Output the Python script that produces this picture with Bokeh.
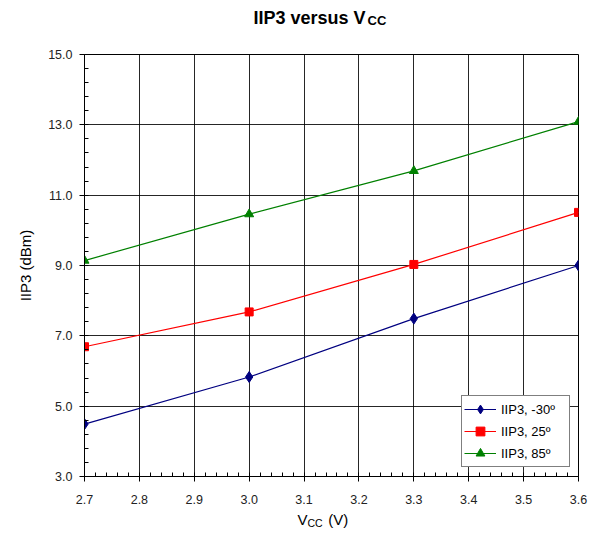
from bokeh.plotting import figure
from bokeh.models import (FixedTicker, NumeralTickFormatter, Label, Legend, Range1d)
from bokeh.embed import file_html
from bokeh.resources import INLINE

# ---- data ----
vcc = [2.7, 3.0, 3.3, 3.6]
iip3_m30 = [4.49, 5.83, 7.49, 9.00]
iip3_25 = [6.69, 7.68, 9.03, 10.51]
iip3_85 = [9.14, 10.46, 11.69, 13.09]

x_major = [2.7, 2.8, 2.9, 3.0, 3.1, 3.2, 3.3, 3.4, 3.5, 3.6]
y_major = [3.0, 5.0, 7.0, 9.0, 11.0, 13.0, 15.0]

FONT = "Liberation Sans"
W, H = 601, 533
L, R, T, B = 84, 23, 54, 57
X0, X1, Y0, Y1 = 2.7, 3.6, 3.0, 15.0
SHIFT = 7  # side-panel labels render this many px lower than requested

# pixel -> data helpers (text placement only)
def dx(px):
    return X0 + (px - L) / (W - R - L) * (X1 - X0)

def dy(py):
    return Y0 + ((H - B) - (py - SHIFT)) / ((H - B) - T) * (Y1 - Y0)

p = figure(width=W, height=H, output_backend="svg", toolbar_location=None,
           title_location=None,
           x_range=Range1d(X0, X1), y_range=Range1d(Y0, Y1),
           min_border_left=L, min_border_right=R, min_border_top=T, min_border_bottom=B,
           background_fill_color="white", border_fill_color="white")

# ticks
x_minor = [round(2.7 + 0.02 * i, 3) for i in range(46)]
y_minor = [round(3.0 + 0.4 * i, 3) for i in range(31)]
p.xaxis.ticker = FixedTicker(ticks=x_major, minor_ticks=x_minor)
p.yaxis.ticker = FixedTicker(ticks=y_major, minor_ticks=y_minor)
p.xaxis.formatter = NumeralTickFormatter(format="0.0")
p.yaxis.formatter = NumeralTickFormatter(format="0.0")

for ax in (p.xaxis, p.yaxis):
    ax.axis_line_color = "black"
    ax.major_tick_line_color = "black"
    ax.minor_tick_line_color = "black"
    ax.major_tick_in = 0
    ax.major_tick_out = 5
    ax.minor_tick_in = 4
    ax.minor_tick_out = 0
    ax.major_label_text_font = FONT
    ax.major_label_text_font_size = "12.5px"
    ax.major_label_text_color = "#222222"

p.xaxis.major_label_standoff = 13
p.yaxis.major_label_standoff = 7

p.yaxis.axis_label = "IIP3 (dBm)"
p.yaxis.axis_label_text_font = FONT
p.yaxis.axis_label_text_font_style = "normal"
p.yaxis.axis_label_text_font_size = "15px"
p.yaxis.axis_label_text_color = "black"
p.yaxis.axis_label_standoff = 11

p.xgrid.ticker = FixedTicker(ticks=x_major)
p.ygrid.ticker = FixedTicker(ticks=y_major)
p.grid.grid_line_color = "black"
p.grid.grid_line_width = 1
p.grid.grid_line_alpha = 0.85

p.outline_line_color = "black"
p.outline_line_width = 1

# series
l1 = p.line(vcc, iip3_m30, line_color="#000080", line_width=1.2)
s1 = p.scatter(vcc, iip3_m30, marker="diamond", size=11, fill_color="#000080", line_color="#000080")
l2 = p.line(vcc, iip3_25, line_color="#FF0000", line_width=1.2)
s2 = p.scatter(vcc, iip3_25, marker="square", size=8, fill_color="#FF0000", line_color="#FF0000")
l3 = p.line(vcc, iip3_85, line_color="#008000", line_width=1.2)
s3 = p.scatter(vcc, iip3_85, marker="triangle", size=9, fill_color="#008000", line_color="#008000")

legend = Legend(items=[("IIP3, -30º", [l1, s1]), ("IIP3, 25º", [l2, s2]), ("IIP3, 85º", [l3, s3])],
                location=(377, 9), orientation="vertical",
                border_line_color="black", border_line_width=1,
                background_fill_color="white", background_fill_alpha=1.0,
                label_text_font=FONT, label_text_font_size="13px", label_text_color="black",
                glyph_width=32, glyph_height=22, label_height=22, spacing=0,
                padding=2, margin=0, label_standoff=5, label_width=66)
p.add_layout(legend, "center")

def lab(text, px, py, size, bold=False):
    return Label(x=dx(px), y=dy(py), text=text, text_font=FONT,
                 text_font_style="bold" if bold else "normal",
                 text_font_size=size, text_color="black",
                 text_align="left", text_baseline="alphabetic")

# title (with subscript) - side panels so they are not clipped to the frame
p.add_layout(lab("IIP3 versus V", 253, 24, "18px", True), "above")
p.add_layout(lab("CC", 367, 27, "13px", True), "right")

# x axis label (with subscript)
p.add_layout(lab("V\u00a0\u00a0\u00a0\u00a0\u00a0(V)", 297, 526, "15px"), "below")
p.add_layout(lab("CC", 307, 529, "10.5px"), "above")

open("out.html", "w").write(file_html(p, INLINE))
